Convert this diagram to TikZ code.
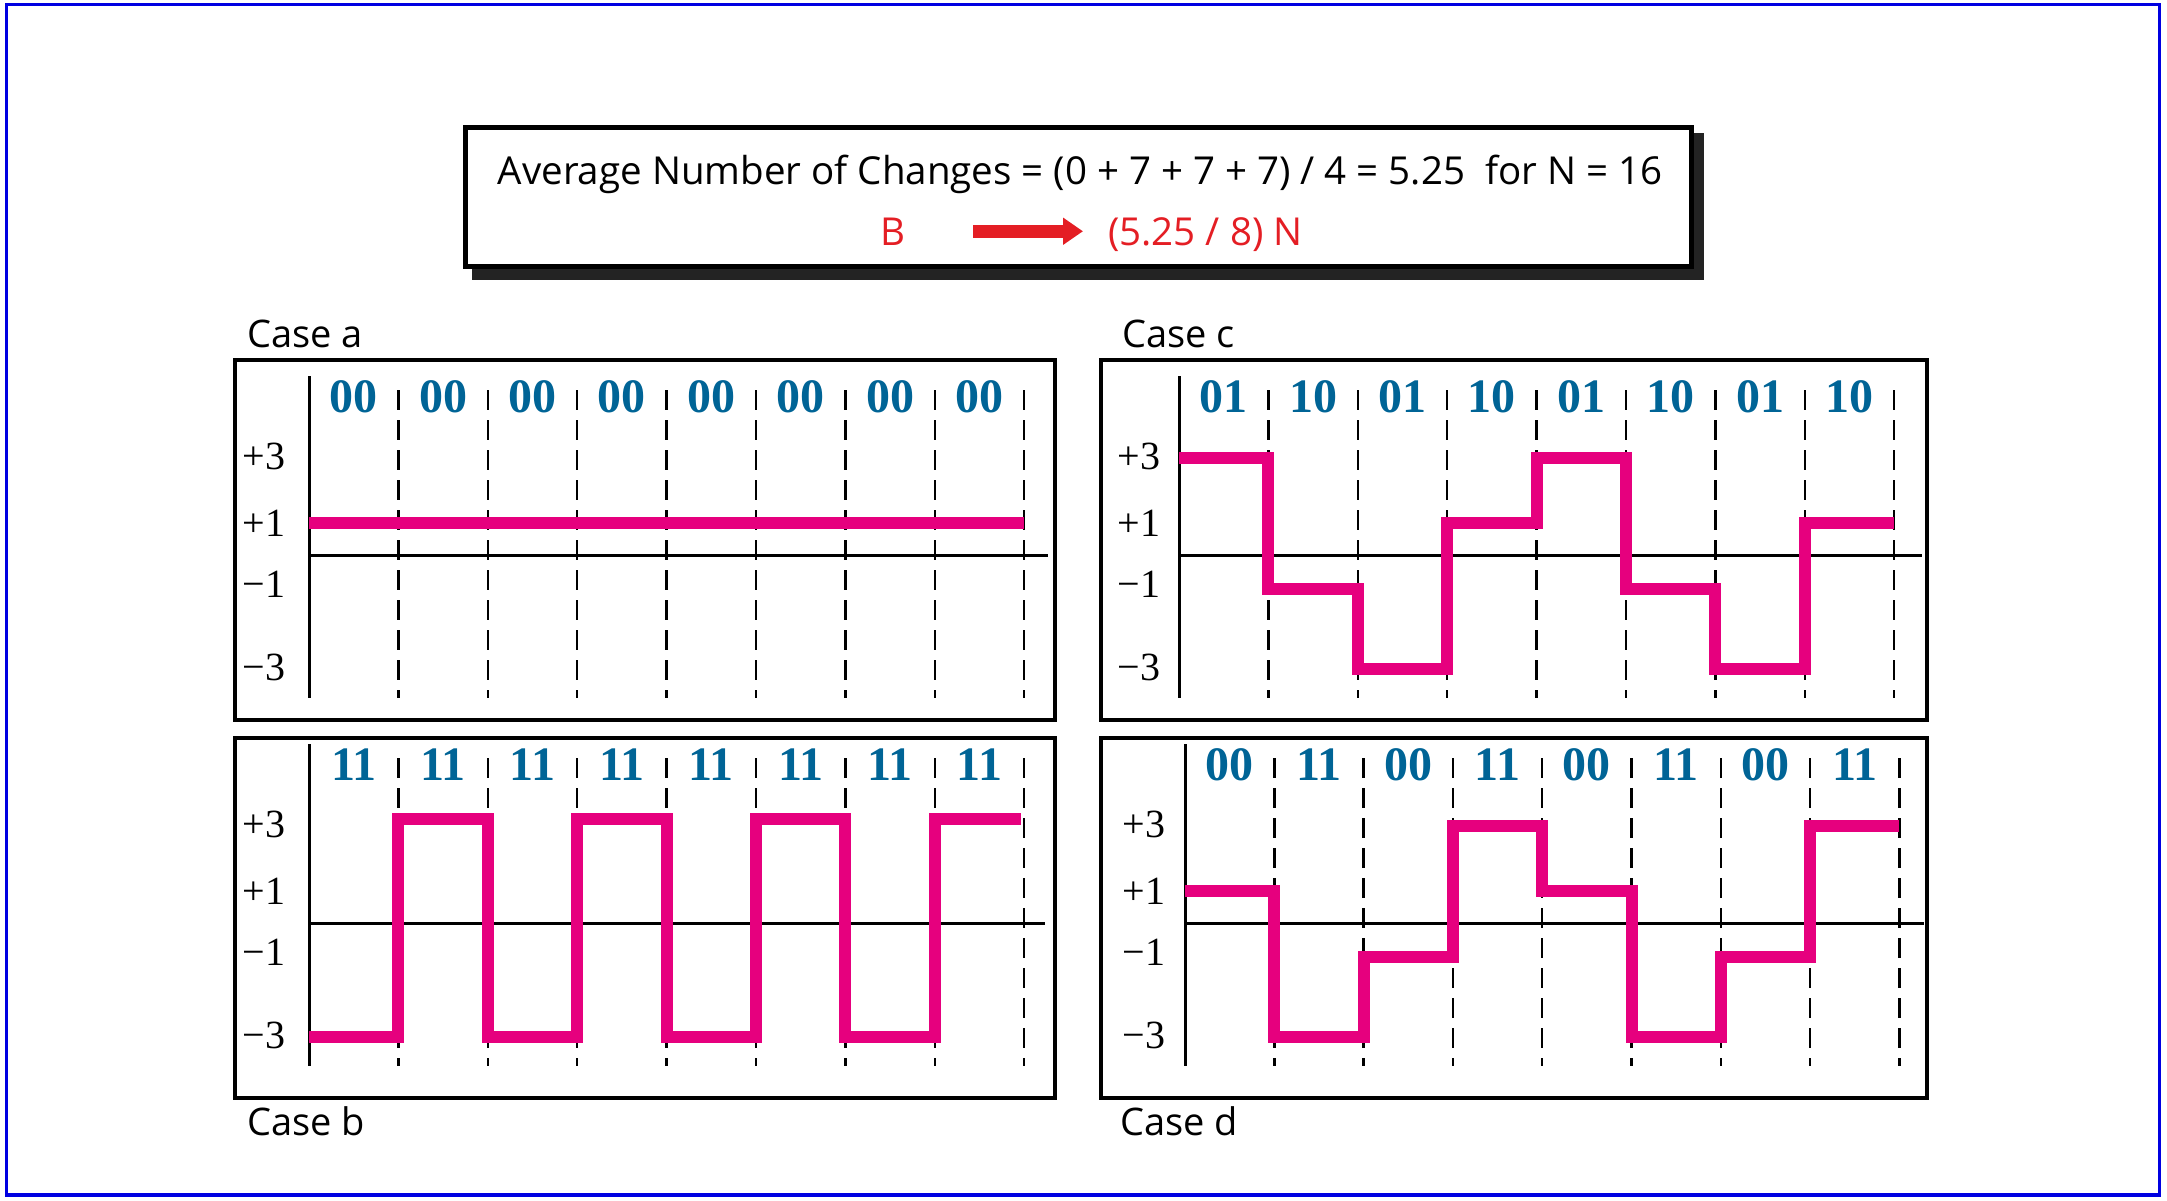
\documentclass[tikz,border=0pt]{standalone}
\usepackage{fontspec}
\setmainfont{Liberation Serif}
\newfontfamily\sansfont{Open Sans}
\usetikzlibrary{arrows.meta,calc}
\definecolor{frameblue}{RGB}{0,0,225}
\definecolor{wavemag}{RGB}{230,0,126}
\definecolor{bitblue}{RGB}{0,100,150}
\definecolor{capred}{RGB}{228,30,36}
\definecolor{shadowgray}{RGB}{35,35,35}
\def\LA{-97}\def\LB{-32}\def\LC{34}\def\LD{114}
\newcommand{\gridpanel}[5]{% #1 prefix, #2 axis right end, #3 level label x, #4 cell width, #5 bits
  \draw[axisline] (0,-179) -- (0,143);
  \draw[axisline] (0,0) -- (#2,0);
  \foreach \k in {1,...,8} \draw[gridline] ({\k*#4},-165) -- ({\k*#4},143);
  \node[lvl] (#1-p3) at (#3,-99) {+3};
  \node[lvl] (#1-p1) at (#3,-32) {+1};
  \node[lvl] (#1-m1) at (#3,29) {−1};
  \node[lvl] (#1-m3) at (#3,112) {−3};
  \foreach \b [count=\k] in {#5} \node[bit] (#1-bit\k) at ({(\k-0.5)*#4},-158) {\b};
}
\begin{document}
\begin{tikzpicture}[x=1pt,y=-1pt,
  panel/.style={draw=black, line width=3.5pt},
  axisline/.style={line width=3pt},
  gridline/.style={line width=2.5pt, dash pattern=on 20pt off 10pt},
  wave/.style={draw=wavemag, line width=12pt, line join=miter},
  bit/.style={font=\fontsize{48}{48}\selectfont\bfseries, text=bitblue, inner sep=0pt},
  lvl/.style={font=\fontsize{40}{40}\selectfont, inner sep=0pt},
  casetxt/.style={font=\sansfont\fontsize{38}{38}\selectfont, inner sep=0pt, anchor=base west},
  toptxt/.style={font=\sansfont\fontsize{38.5}{38.5}\selectfont, inner sep=0pt},
  redarrow/.style={draw=capred, line width=13pt, -{Triangle[length=20pt,width=26pt]}},
]
\useasboundingbox (0,0) rectangle (2167,1200);
% outer frame
\draw[frameblue, line width=3.5pt] (6.5,4.5) rectangle (2159.5,1195);
% title box
\fill[shadowgray] (472,133) rectangle (1704,280);
\draw[fill=white, line width=5pt] (465.5,127.5) rectangle (1691.5,266.5);
\node[toptxt, anchor=base] (title) at (1080,184) {Average Number of Changes = (0 + 7 + 7 + 7) / 4 = 5.25\ \ for N = 16};
\node[toptxt, anchor=base west, text=capred] (B) at (880,245) {B};
\node[toptxt, anchor=base west, text=capred] (N) at (1108,245) {(5.25 / 8) N};
\draw[redarrow, shorten <=68pt, shorten >=25pt] (B.east) -- (B.east -| N.west);
% panel frames
\draw[panel] (235,360) rectangle (1055,720);
\draw[panel] (1101,360) rectangle (1927,720);
\draw[panel] (235,738) rectangle (1055,1098);
\draw[panel] (1101,738) rectangle (1927,1098);
\node[casetxt] (casea) at (247,347) {Case a};
\node[casetxt] (casec) at (1122,347) {Case c};
\node[casetxt] (caseb) at (247,1135) {Case b};
\node[casetxt] (cased) at (1120,1135) {Case d};
% panel a
\begin{scope}[shift={(309,555)}]
  \gridpanel{a}{739}{-45}{89.4}{00,00,00,00,00,00,00,00}
  \draw[wave] (0,\LB) -- (715.2,\LB);
\end{scope}
% panel c
\begin{scope}[shift={(1179,555)}]
  \gridpanel{c}{743}{-40}{89.4}{01,10,01,10,01,10,01,10}
  \draw[wave] (0,\LA) -| (89.4,\LC) -| (178.8,\LD) -| (268.2,\LB) -| (357.6,\LA) -| (447,\LC) -| (536.4,\LD) -| (625.8,\LB) -- (715.2,\LB);
\end{scope}
% panel b
\begin{scope}[shift={(309,923)}]
  \gridpanel{b}{736}{-45}{89.4}{11,11,11,11,11,11,11,11}
  \draw[wave] (0,\LD) -| (89.4,-104) -| (178.8,\LD) -| (268.2,-104) -| (357.6,\LD) -| (447,-104) -| (536.4,\LD) -| (625.8,-104) -- (712,-104);
\end{scope}
% panel d
\begin{scope}[shift={(1185,923)}]
  \gridpanel{d}{739}{-41}{89.3}{00,11,00,11,00,11,00,11}
  \draw[wave] (0,\LB) -| (89.3,\LD) -| (178.6,\LC) -| (267.9,\LA) -| (357.2,\LB) -| (446.5,\LD) -| (535.8,\LC) -| (625.1,\LA) -- (714.4,\LA);
\end{scope}
\end{tikzpicture}
\end{document}
